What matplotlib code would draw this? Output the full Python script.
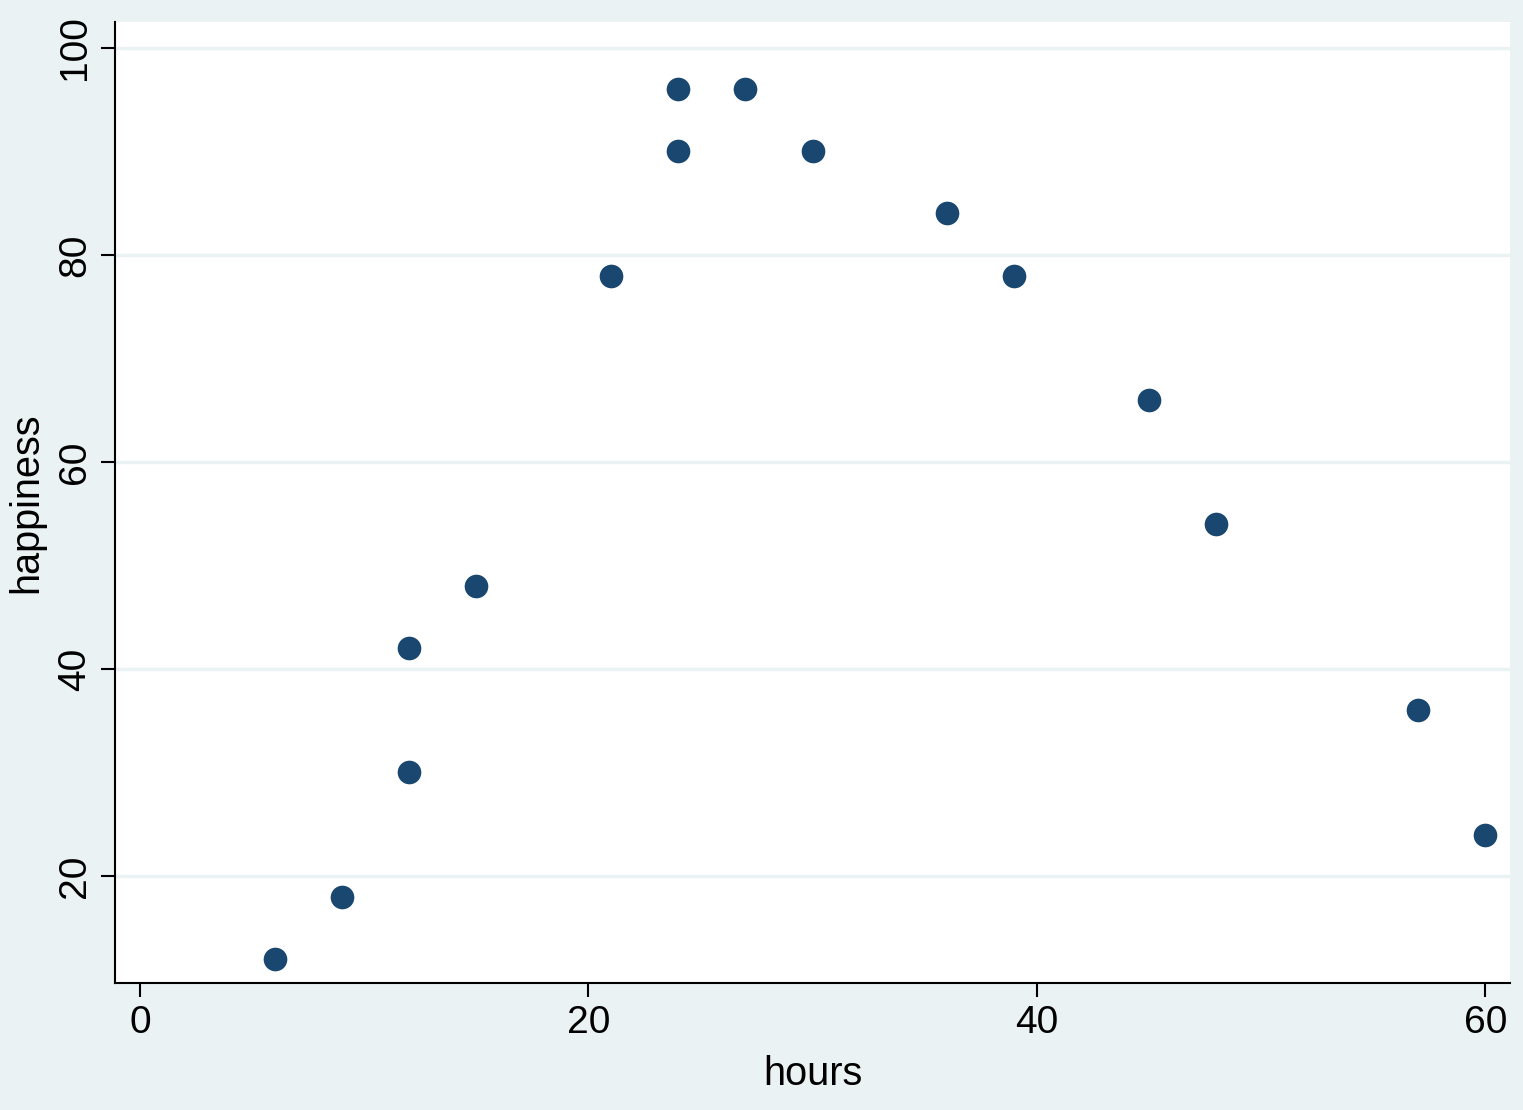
import matplotlib
matplotlib.use("Agg")
import matplotlib.pyplot as plt

hours = [6, 9, 12, 12, 15, 21, 24, 24, 27, 30, 36, 39, 45, 48, 57, 60]
happiness = [12, 18, 42, 30, 48, 78, 96, 90, 96, 90, 84, 78, 66, 54, 36, 24]
xticks = [0, 20, 40, 60]
yticks = [20, 40, 60, 80, 100]

plt.rcParams['font.family'] = ['Liberation Sans', 'DejaVu Sans']
bg = '#eaf2f3'
fig = plt.figure(figsize=(15.23, 11.10), dpi=100, facecolor=bg)
ax = fig.add_axes([115/1523, 1 - 983/1110, (1510-115)/1523, (983-22)/1110])
ax.set_facecolor('white')
ax.scatter(hours, happiness, s=290, color='#1a476f', zorder=3, linewidths=0)
ax.set_xlim(-1.115, 61.1)
ax.set_ylim(9.66, 102.5)
ax.set_xticks(xticks)
ax.set_yticks(yticks)
ax.grid(axis='y', color=bg, linewidth=2.5, zorder=0)
ax.set_axisbelow(True)
for s in ['top', 'right']:
    ax.spines[s].set_visible(False)
for s in ['left', 'bottom']:
    ax.spines[s].set_linewidth(1.5)
    ax.spines[s].set_color('black')
ax.tick_params(axis='both', labelsize=28, length=10, width=1.5, pad=6)
for lbl in ax.get_yticklabels():
    lbl.set_rotation(90)
    lbl.set_va('center')
ax.set_xlabel('hours', fontsize=28.5, labelpad=10)
ax.set_ylabel('happiness', fontsize=28.5, labelpad=8)
fig.savefig('out.png', dpi=100, facecolor=bg)
